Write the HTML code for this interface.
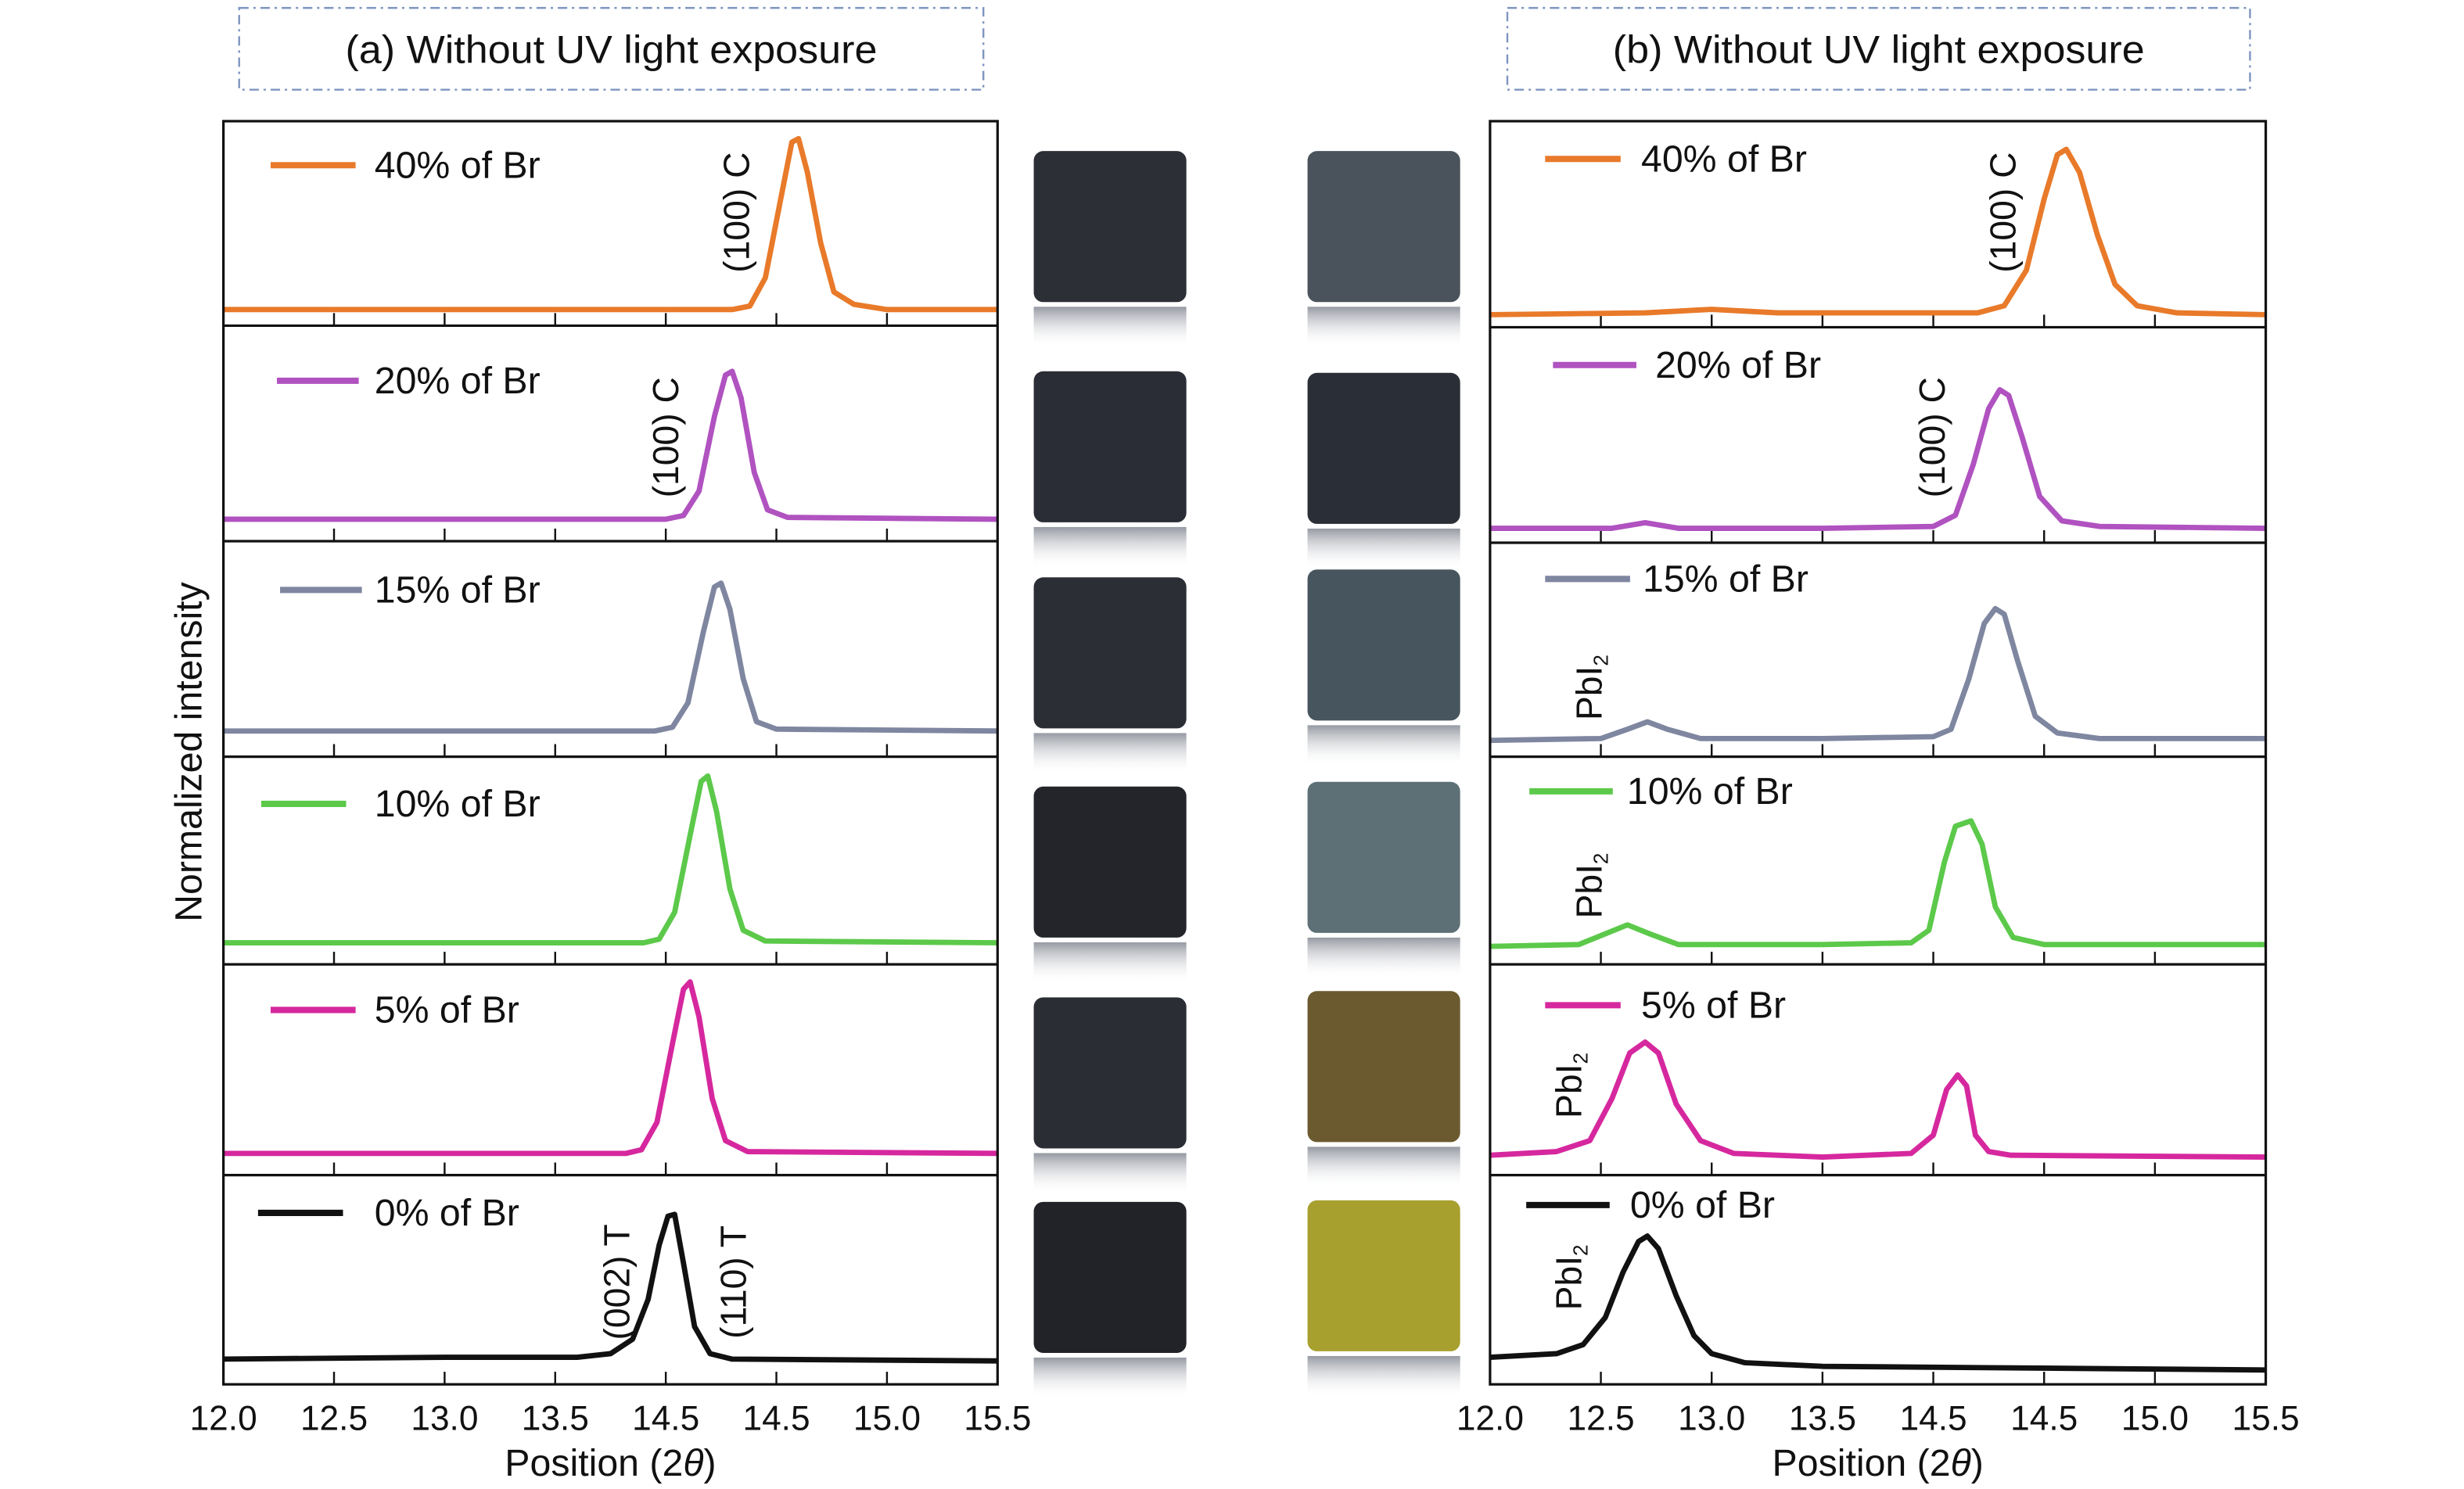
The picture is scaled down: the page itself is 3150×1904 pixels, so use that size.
<!DOCTYPE html>
<html><head><meta charset="utf-8"><style>
html,body{margin:0;padding:0;background:#fff;}
svg{display:block;font-family:"Liberation Sans",sans-serif;}
</style></head><body>
<svg id="fig" width="3150" height="1904" viewBox="0 0 1566 946.5" xmlns="http://www.w3.org/2000/svg">
<defs>
<linearGradient id="refl" x1="0" y1="0" x2="0" y2="1">
<stop offset="0" stop-color="#8a8e98" stop-opacity="0.9"/>
<stop offset="1" stop-color="#ffffff" stop-opacity="0"/>
</linearGradient>
</defs>
<g id="root"></g>
</svg>
<script>
// ----- chart data -----
const xTickLabels = ["12.0","12.5","13.0","13.5","14.5","14.5","15.0","15.5"];
const xTickValues = [12.0,12.5,13.0,13.5,14.0,14.5,15.0,15.5];
const seriesNames = ["40% of Br","20% of Br","15% of Br","10% of Br","5% of Br","0% of Br"];
const seriesColors = ["#e87a2a","#b052c0","#7f86a0","#5cc94a","#d6289e","#111111"];

const leftX40 = [12,13.5,14.3,14.38,14.45,14.52,14.57,14.6,14.64,14.7,14.76,14.85,15.0,15.5];
const leftY40 = [0.02,0.02,0.02,0.04,0.2,0.65,0.97,0.99,0.8,0.4,0.12,0.05,0.02,0.02];
const leftX20 = [12,13.5,14.0,14.08,14.15,14.22,14.27,14.3,14.34,14.4,14.46,14.55,15.5];
const leftY20 = [0.05,0.05,0.05,0.07,0.2,0.6,0.82,0.84,0.7,0.3,0.1,0.06,0.05];
const leftX15 = [12,13.5,13.95,14.03,14.1,14.17,14.22,14.25,14.29,14.35,14.41,14.5,15.5];
const leftY15 = [0.07,0.07,0.07,0.09,0.22,0.6,0.84,0.86,0.72,0.35,0.12,0.08,0.07];
const leftX10 = [12,13.5,13.9,13.97,14.04,14.11,14.16,14.19,14.23,14.29,14.35,14.45,15.5];
const leftY10 = [0.05,0.05,0.05,0.07,0.22,0.65,0.95,0.98,0.78,0.35,0.12,0.06,0.05];
const leftX5 = [12,13.5,13.82,13.89,13.96,14.03,14.08,14.11,14.15,14.21,14.27,14.37,15.5];
const leftY5 = [0.05,0.05,0.05,0.07,0.22,0.65,0.95,0.99,0.8,0.35,0.12,0.06,0.05];
const leftX0 = [12,13.0,13.6,13.75,13.85,13.92,13.97,14.01,14.04,14.08,14.13,14.2,14.3,15.5];
const leftY0 = [0.07,0.08,0.08,0.1,0.18,0.4,0.7,0.86,0.87,0.6,0.25,0.1,0.07,0.06];

const rightX40 = [12,12.7,13.0,13.3,14.2,14.32,14.42,14.5,14.56,14.6,14.66,14.74,14.82,14.92,15.1,15.5];
const rightY40 = [0,0.01,0.03,0.01,0.01,0.05,0.25,0.65,0.9,0.93,0.8,0.45,0.17,0.05,0.01,0];
const rightX20 = [12,12.55,12.7,12.85,13.5,14.0,14.1,14.18,14.25,14.3,14.34,14.4,14.48,14.58,14.75,15.5];
const rightY20 = [0.01,0.01,0.04,0.01,0.01,0.02,0.08,0.35,0.65,0.75,0.72,0.5,0.18,0.05,0.02,0.01];
const rightX15 = [12,12.5,12.62,12.71,12.8,12.95,13.5,14.0,14.08,14.16,14.23,14.28,14.32,14.38,14.46,14.56,14.75,15.5];
const rightY15 = [0.02,0.03,0.08,0.12,0.08,0.03,0.03,0.04,0.08,0.35,0.65,0.73,0.7,0.45,0.15,0.06,0.03,0.03];
const rightX10 = [12,12.4,12.52,12.62,12.72,12.85,13.5,13.9,13.98,14.05,14.1,14.17,14.22,14.28,14.36,14.5,15.5];
const rightY10 = [0.03,0.04,0.1,0.15,0.1,0.04,0.04,0.05,0.12,0.5,0.7,0.73,0.6,0.25,0.08,0.04,0.04];
const rightX5 = [12,12.3,12.45,12.55,12.63,12.7,12.76,12.84,12.95,13.1,13.5,13.9,14.0,14.06,14.11,14.15,14.19,14.25,14.35,15.5];
const rightY5 = [0.04,0.06,0.12,0.35,0.6,0.66,0.6,0.32,0.12,0.05,0.03,0.05,0.15,0.4,0.48,0.42,0.15,0.06,0.04,0.03];
const rightX0 = [12,12.3,12.42,12.52,12.6,12.67,12.71,12.76,12.84,12.92,13.0,13.15,13.5,14.5,15.5];
const rightY0 = [0.08,0.1,0.15,0.3,0.55,0.72,0.75,0.68,0.42,0.2,0.1,0.05,0.03,0.02,0.01];

const leftSeries = [[leftX40,leftY40],[leftX20,leftY20],[leftX15,leftY15],[leftX10,leftY10],[leftX5,leftY5],[leftX0,leftY0]];
const rightSeries = [[rightX40,rightY40],[rightX20,rightY20],[rightX15,rightY15],[rightX10,rightY10],[rightX5,rightY5],[rightX0,rightY0]];

// ----- layout -----
const NS = "http://www.w3.org/2000/svg";
const root = document.getElementById("root");
function mk(tag, attrs, parent, text){
  const e = document.createElementNS(NS, tag);
  for (const k in attrs) e.setAttribute(k, attrs[k]);
  if (text !== undefined) e.textContent = text;
  (parent||root).appendChild(e);
  return e;
}
const leftDiv = [77,207,344,481,613,747,880];
const rightDiv = [77,208,345,481,613,747,880];
const panels = [
  {x0:142,x1:634,div:leftDiv,series:leftSeries,name:"panel-a",
   legLine:[[172,226],[176,228],[178,230],[166,220],[172,226],[164,218]],
   legText:[238,238,238,238,238,238], legY:[105,242,375,511,642,771]},
  {x0:947,x1:1440,div:rightDiv,series:rightSeries,name:"panel-b",
   legLine:[[982,1030],[987,1040],[982,1036],[972,1025],[982,1030],[970,1023]],
   legText:[1043,1052,1044,1034,1043,1036], legY:[101,232,368,503,639,766]}
];
function xScale(p, v){ return p.x0 + (v-12)/(3.5)*(p.x1-p.x0); }
function yScale(p, i, v){ const top=p.div[i], bot=p.div[i+1]; const y0=bot-8, y1=top+10; return y0 - v*(y0-y1); }

panels.forEach(p=>{
  const g = mk("g",{});
  
  
  for (let i=0;i<6;i++){
    const sg = mk("g",{},g);
    
    
    for (let t=1;t<xTickValues.length-1;t++){
      const tx = xScale(p, xTickValues[t]);
      const tk = mk("line",{x1:tx,x2:tx,y1:p.div[i+1],y2:p.div[i+1]-8,stroke:"#111","stroke-width":1.2},sg);
      
      
    }
    const xs = p.series[i][0], ys = p.series[i][1];
    let d = "";
    for (let k=0;k<xs.length;k++){
      d += (k?"L":"M") + xScale(p,xs[k]).toFixed(2) + "," + yScale(p,i,ys[k]).toFixed(2);
    }
    const path = mk("path",{d:d,fill:"none",stroke:seriesColors[i],"stroke-width":3.4,"stroke-linejoin":"round"},sg);
    
    
    const ly = p.legY[i];
    const ll = mk("line",{x1:p.legLine[i][0],x2:p.legLine[i][1],y1:ly,y2:ly,stroke:seriesColors[i],"stroke-width":4},sg);
    
    
    const lt = mk("text",{x:p.legText[i],y:ly+8,"font-size":24,fill:"#111"},sg,seriesNames[i]);
    
    
  }
  const fr = mk("rect",{x:p.x0,y:p.div[0],width:p.x1-p.x0,height:p.div[6]-p.div[0],fill:"none",stroke:"#111","stroke-width":1.6},g);
  
  
  for (let i=1;i<6;i++){
    const dl = mk("line",{x1:p.x0,x2:p.x1,y1:p.div[i],y2:p.div[i],stroke:"#111","stroke-width":1.6},g);
    
    
  }
  for (let t=0;t<xTickValues.length;t++){
    const tl = mk("text",{x:xScale(p,xTickValues[t]),y:909,"font-size":22,"text-anchor":"middle",fill:"#111"},g,xTickLabels[t]);
    
    
  }
  const xl = mk("text",{x:(p.x0+p.x1)/2,y:938,"font-size":24,"text-anchor":"middle",fill:"#111"},g);
  
  
  xl.innerHTML = 'Position (2<tspan font-style="italic">θ</tspan>)';
});

[[152,625,"(a) Without UV light exposure","title-a"],[958,1430,"(b) Without UV light exposure","title-b"]].forEach(t=>{
  const b = mk("rect",{x:t[0],y:5,width:t[1]-t[0],height:52,fill:"none",stroke:"#7f95c0","stroke-width":1.2,"stroke-dasharray":"6,3,1.5,3"});
  
  
  const tx = mk("text",{x:(t[0]+t[1])/2,y:40,"font-size":25,"text-anchor":"middle",fill:"#111",textLength:338,lengthAdjust:"spacingAndGlyphs"},root,t[2]);
  
  
});

const yt = mk("text",{x:0,y:0,"font-size":24,"text-anchor":"middle",fill:"#111",transform:"translate(128,478) rotate(-90)"},root,"Normalized intensity");



const ann = [
  [476,135,"(100) C"],[431,278,"(100) C"],[400,815,"(002) T"],[474,815,"(110) T"],
  [1281,135,"(100) C"],[1236,278,"(100) C"]
];
ann.forEach(a=>{
  const e = mk("text",{x:0,y:0,"font-size":23,"text-anchor":"middle",fill:"#111",transform:"translate("+a[0]+","+a[1]+") rotate(-90)"},root,a[2]);
  
  
});
[[1018,437],[1018,563],[1005,690],[1005,812]].forEach(a=>{
  const e = mk("text",{x:0,y:0,"font-size":23,"text-anchor":"middle",fill:"#111",transform:"translate("+a[0]+","+a[1]+") rotate(-90)"});
  e.innerHTML = 'PbI<tspan font-size="13" dy="4">2</tspan>';
  
  
});

const leftPhotos = [[96,"#2c2f35"],[236,"#2a2d35"],[367,"#2b2e35"],[500,"#24252b"],[634,"#2a2d34"],[764,"#222328"]];
const rightPhotos = [[96,"#4a535c"],[237,"#2a2e36"],[362,"#47555f"],[497,"#5d7076"],[630,"#6b5a30"],[763,"#a8a02e"]];
function photo(x,y,c,name){
  const g = mk("g",{});
  
  
  mk("rect",{x:x,y:y,width:97,height:96,rx:6,fill:c},g);
  mk("rect",{x:x,y:y+99,width:97,height:26,fill:"url(#refl)"},g);
}
leftPhotos.forEach((p,i)=>photo(657,p[0],p[1],'sample-photo-a-'+i));
rightPhotos.forEach((p,i)=>photo(831,p[0],p[1],'sample-photo-b-'+i));
</script>
</body></html>
